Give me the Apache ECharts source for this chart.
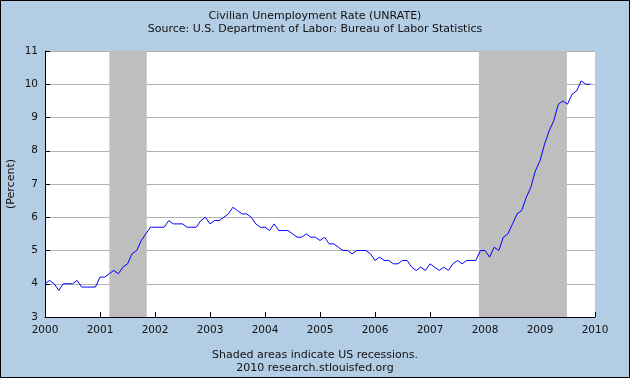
<!DOCTYPE html>
<html><head><meta charset="utf-8">
<script src="https://cdn.jsdelivr.net/npm/echarts@6/dist/echarts.min.js"></script>
<style>html,body{margin:0;padding:0;background:#b3cde4}#c{width:630px;height:378px}</style>
</head><body><div id="c"></div>
<script>
const years = [2000,2001,2002,2003,2004,2005,2006,2007,2008,2009];
const rate2000 = [4.0,4.1,4.0,3.8,4.0,4.0,4.0,4.1,3.9,3.9,3.9,3.9];
const rate2001 = [4.2,4.2,4.3,4.4,4.3,4.5,4.6,4.9,5.0,5.3,5.5,5.7];
const rate2002 = [5.7,5.7,5.7,5.9,5.8,5.8,5.8,5.7,5.7,5.7,5.9,6.0];
const rate2003 = [5.8,5.9,5.9,6.0,6.1,6.3,6.2,6.1,6.1,6.0,5.8,5.7];
const rate2004 = [5.7,5.6,5.8,5.6,5.6,5.6,5.5,5.4,5.4,5.5,5.4,5.4];
const rate2005 = [5.3,5.4,5.2,5.2,5.1,5.0,5.0,4.9,5.0,5.0,5.0,4.9];
const rate2006 = [4.7,4.8,4.7,4.7,4.6,4.6,4.7,4.7,4.5,4.4,4.5,4.4];
const rate2007 = [4.6,4.5,4.4,4.5,4.4,4.6,4.7,4.6,4.7,4.7,4.7,5.0];
const rate2008 = [5.0,4.8,5.1,5.0,5.4,5.5,5.8,6.1,6.2,6.6,6.9,7.4];
const rate2009 = [7.7,8.2,8.6,8.9,9.4,9.5,9.4,9.7,9.8,10.1,10.0,10.0];
const recessions = [[2001.17, 2001.85], [2007.89, 2009.49]];
const xTicks = [2000,2001,2002,2003,2004,2005,2006,2007,2008,2009,2010];
const yTicks = [3,4,5,6,7,8,9,10,11];

const allRates = [rate2000,rate2001,rate2002,rate2003,rate2004,rate2005,rate2006,rate2007,rate2008,rate2009];
const series = [];
allRates.forEach((arr, yi) => arr.forEach((v, m) => series.push([years[yi] + m / 12, v])));

const font = 'DejaVu Sans, Verdana, sans-serif';
const chart = echarts.init(document.getElementById('c'), null, {renderer: 'canvas'});
chart.setOption({
  backgroundColor: '#b3cde4',
  animation: false,
  title: [
    {text: 'Civilian Unemployment Rate (UNRATE)', left: 'center', top: 6,
     textStyle: {fontFamily: font, fontSize: 11, fontWeight: 'normal', color: '#111'}},
    {text: 'Source: U.S. Department of Labor: Bureau of Labor Statistics', left: 'center', top: 19,
     textStyle: {fontFamily: font, fontSize: 11, fontWeight: 'normal', color: '#111'}},
    {text: 'Shaded areas indicate US recessions.', left: 'center', top: 345,
     textStyle: {fontFamily: font, fontSize: 11, fontWeight: 'normal', color: '#111'}},
    {text: '2010 research.stlouisfed.org', left: 'center', top: 358,
     textStyle: {fontFamily: font, fontSize: 11, fontWeight: 'normal', color: '#111'}}
  ],
  graphic: [{type: 'rect', shape: {x: 0.5, y: 0.5, width: 629, height: 377},
    style: {fill: 'none', stroke: '#000', lineWidth: 1}, z: 100}],
  grid: {left: 45, top: 51, right: 35, bottom: 61, show: true, backgroundColor: '#fff', borderWidth: 0,
    containLabel: false, outerBoundsMode: 'none'},
  xAxis: {
    type: 'value', min: xTicks[0], max: xTicks[xTicks.length - 1], interval: 1,
    axisLine: {show: true, onZero: false, lineStyle: {color: '#000', width: 1}},
    axisTick: {show: true, inside: true, length: 5, lineStyle: {color: '#000'}},
    axisLabel: {fontFamily: font, fontSize: 10.5, color: '#111', margin: 8, formatter: v => String(v), showMinLabel: true, showMaxLabel: true},
    splitLine: {show: false}
  },
  yAxis: {
    type: 'value', min: yTicks[0], max: yTicks[yTicks.length - 1], interval: 1,
    name: '(Percent)', nameLocation: 'middle', nameGap: 28, nameRotate: 90, nameMoveOverlap: false,
    nameTextStyle: {fontFamily: font, fontSize: 11, color: '#111'},
    axisLine: {show: true, lineStyle: {color: '#000', width: 1}},
    axisTick: {show: true, inside: true, length: 5, lineStyle: {color: '#000'}},
    axisLabel: {fontFamily: font, fontSize: 10.5, color: '#111', margin: 7},
    splitLine: {show: true, lineStyle: {color: '#b0b0b0', width: 1}}
  },
  series: [{
    type: 'line', data: series, showSymbol: false, symbol: 'none',
    lineStyle: {color: '#0000ff', width: 1}, z: 5,
    markArea: {silent: true, itemStyle: {color: '#bebebe', opacity: 1},
      data: recessions.map(r => [{xAxis: r[0]}, {xAxis: r[1]}])}
  }]
});
</script></body></html>
